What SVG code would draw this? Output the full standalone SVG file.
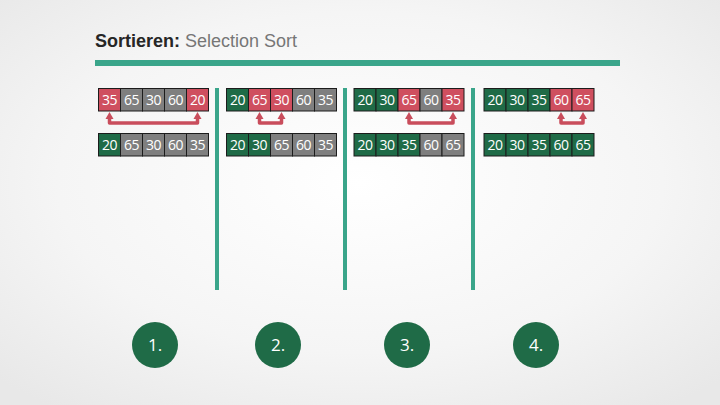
<svg xmlns="http://www.w3.org/2000/svg" width="720" height="405" viewBox="0 0 720 405">
<defs>
<radialGradient id="bg" cx="50%" cy="45%" r="70%">
<stop offset="0" stop-color="#ffffff"/>
<stop offset="0.6" stop-color="#f5f5f5"/>
<stop offset="1" stop-color="#e8e8e8"/>
</radialGradient>
<style>
.c rect{stroke:#1c1c1c;stroke-width:1}
.r{fill:#cf4f5f}.g{fill:#7f7f7f}.d{fill:#1f6b47}
.t{font-family:"Open Sans","Liberation Sans",sans-serif;font-size:14px;fill:#fff;text-anchor:middle;letter-spacing:-0.5px}
.bar{fill:#3aa58a}
.arr{fill:none;stroke:#c94d5c;stroke-width:3.5;stroke-linejoin:round}
.head{fill:#c94d5c}
.num{font-family:"Open Sans","Liberation Sans",sans-serif;font-size:17px;fill:#fff;text-anchor:middle}
</style>
</defs>
<rect width="720" height="405" fill="url(#bg)"/>
<g id="title">
<text x="95" y="47" font-family="'Liberation Sans',Arial,sans-serif" font-size="18"><tspan font-weight="bold" fill="#262626">Sortieren:</tspan><tspan fill="#767676"> Selection Sort</tspan></text>
<rect class="bar" x="95" y="60" width="525" height="6"/>
</g>
<g id="dividers">
<rect class="bar" x="215" y="88" width="4" height="202"/>
<rect class="bar" x="343" y="88" width="4" height="202"/>
<rect class="bar" x="471" y="88" width="4" height="202"/>
</g>
<g id="step1" class="c">
<rect class="r" x="98.5" y="88.5" width="22" height="22.5"/><text class="t" x="109.5" y="105">35</text>
<rect class="g" x="120.5" y="88.5" width="22" height="22.5"/><text class="t" x="131.5" y="105">65</text>
<rect class="g" x="142.5" y="88.5" width="22" height="22.5"/><text class="t" x="153.5" y="105">30</text>
<rect class="g" x="164.5" y="88.5" width="22" height="22.5"/><text class="t" x="175.5" y="105">60</text>
<rect class="r" x="186.5" y="88.5" width="22" height="22.5"/><text class="t" x="197.5" y="105">20</text>
<rect class="d" x="98.5" y="133.5" width="22" height="22.5"/><text class="t" x="109.5" y="150">20</text>
<rect class="g" x="120.5" y="133.5" width="22" height="22.5"/><text class="t" x="131.5" y="150">65</text>
<rect class="g" x="142.5" y="133.5" width="22" height="22.5"/><text class="t" x="153.5" y="150">30</text>
<rect class="g" x="164.5" y="133.5" width="22" height="22.5"/><text class="t" x="175.5" y="150">60</text>
<rect class="g" x="186.5" y="133.5" width="22" height="22.5"/><text class="t" x="197.5" y="150">35</text>
</g>
<g id="step2" class="c">
<rect class="d" x="226.5" y="88.5" width="22" height="22.5"/><text class="t" x="237.5" y="105">20</text>
<rect class="r" x="248.5" y="88.5" width="22" height="22.5"/><text class="t" x="259.5" y="105">65</text>
<rect class="r" x="270.5" y="88.5" width="22" height="22.5"/><text class="t" x="281.5" y="105">30</text>
<rect class="g" x="292.5" y="88.5" width="22" height="22.5"/><text class="t" x="303.5" y="105">60</text>
<rect class="g" x="314.5" y="88.5" width="22" height="22.5"/><text class="t" x="325.5" y="105">35</text>
<rect class="d" x="226.5" y="133.5" width="22" height="22.5"/><text class="t" x="237.5" y="150">20</text>
<rect class="d" x="248.5" y="133.5" width="22" height="22.5"/><text class="t" x="259.5" y="150">30</text>
<rect class="g" x="270.5" y="133.5" width="22" height="22.5"/><text class="t" x="281.5" y="150">65</text>
<rect class="g" x="292.5" y="133.5" width="22" height="22.5"/><text class="t" x="303.5" y="150">60</text>
<rect class="g" x="314.5" y="133.5" width="22" height="22.5"/><text class="t" x="325.5" y="150">35</text>
</g>
<g id="step3" class="c">
<rect class="d" x="354" y="88.5" width="22" height="22.5"/><text class="t" x="365" y="105">20</text>
<rect class="d" x="376" y="88.5" width="22" height="22.5"/><text class="t" x="387" y="105">30</text>
<rect class="r" x="398" y="88.5" width="22" height="22.5"/><text class="t" x="409" y="105">65</text>
<rect class="g" x="420" y="88.5" width="22" height="22.5"/><text class="t" x="431" y="105">60</text>
<rect class="r" x="442" y="88.5" width="22" height="22.5"/><text class="t" x="453" y="105">35</text>
<rect class="d" x="354" y="133.5" width="22" height="22.5"/><text class="t" x="365" y="150">20</text>
<rect class="d" x="376" y="133.5" width="22" height="22.5"/><text class="t" x="387" y="150">30</text>
<rect class="d" x="398" y="133.5" width="22" height="22.5"/><text class="t" x="409" y="150">35</text>
<rect class="g" x="420" y="133.5" width="22" height="22.5"/><text class="t" x="431" y="150">60</text>
<rect class="g" x="442" y="133.5" width="22" height="22.5"/><text class="t" x="453" y="150">65</text>
</g>
<g id="step4" class="c">
<rect class="d" x="484" y="88.5" width="22" height="22.5"/><text class="t" x="495" y="105">20</text>
<rect class="d" x="506" y="88.5" width="22" height="22.5"/><text class="t" x="517" y="105">30</text>
<rect class="d" x="528" y="88.5" width="22" height="22.5"/><text class="t" x="539" y="105">35</text>
<rect class="r" x="550" y="88.5" width="22" height="22.5"/><text class="t" x="561" y="105">60</text>
<rect class="r" x="572" y="88.5" width="22" height="22.5"/><text class="t" x="583" y="105">65</text>
<rect class="d" x="484" y="133.5" width="22" height="22.5"/><text class="t" x="495" y="150">20</text>
<rect class="d" x="506" y="133.5" width="22" height="22.5"/><text class="t" x="517" y="150">30</text>
<rect class="d" x="528" y="133.5" width="22" height="22.5"/><text class="t" x="539" y="150">35</text>
<rect class="d" x="550" y="133.5" width="22" height="22.5"/><text class="t" x="561" y="150">60</text>
<rect class="d" x="572" y="133.5" width="22" height="22.5"/><text class="t" x="583" y="150">65</text>
</g>
<g id="connectors">
<path class="arr" d="M109.5,118 V123 H197.5 V118"/>
<path class="arr" d="M259.5,118 V123 H281.5 V118"/>
<path class="arr" d="M409,118 V123 H453 V118"/>
<path class="arr" d="M561,118 V123 H583 V118"/>
<path class="head" d="M105.5,119 L109.5,112 L113.5,119 Z"/><path class="head" d="M193.5,119 L197.5,112 L201.5,119 Z"/>
<path class="head" d="M255.5,119 L259.5,112 L263.5,119 Z"/><path class="head" d="M277.5,119 L281.5,112 L285.5,119 Z"/>
<path class="head" d="M405,119 L409,112 L413,119 Z"/><path class="head" d="M449,119 L453,112 L457,119 Z"/>
<path class="head" d="M557,119 L561,112 L565,119 Z"/><path class="head" d="M579,119 L583,112 L587,119 Z"/>
</g>
<g id="label1"><circle cx="155" cy="345" r="23" fill="#1f6b47"/><text class="num" x="155" y="351">1.</text></g>
<g id="label2"><circle cx="278" cy="345" r="23" fill="#1f6b47"/><text class="num" x="278" y="351">2.</text></g>
<g id="label3"><circle cx="407" cy="345" r="23" fill="#1f6b47"/><text class="num" x="407" y="351">3.</text></g>
<g id="label4"><circle cx="536" cy="345" r="23" fill="#1f6b47"/><text class="num" x="536" y="351">4.</text></g>
</svg>
